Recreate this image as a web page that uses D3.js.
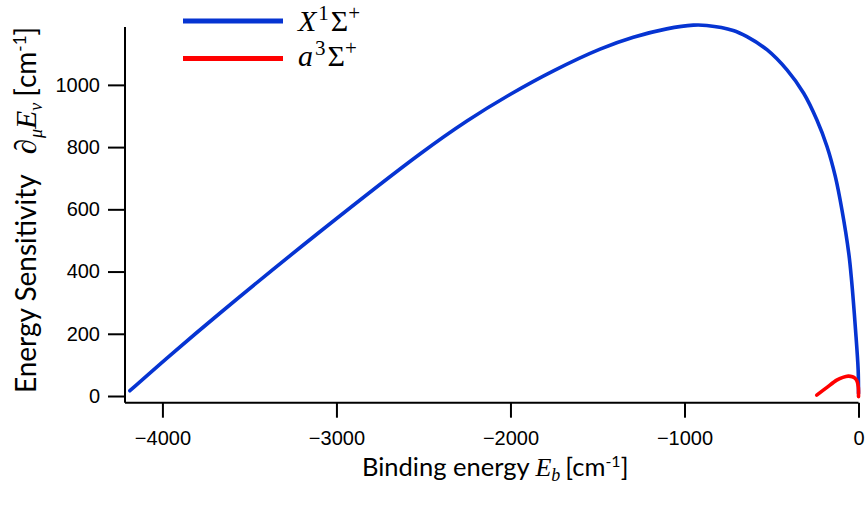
<!DOCTYPE html>
<html>
<head>
<meta charset="utf-8">
<script src="https://cdn.jsdelivr.net/npm/d3@7"></script>
<style>
  html, body { margin: 0; padding: 0; background: #fff; }
  svg { display: block; }
</style>
</head>
<body>
<svg id="chart" width="867" height="506"></svg>
<script>
// Binding energy E_b [cm^-1] and energy sensitivity [cm^-1] for the two molecular states
const singletEb   = [-4187, -3957, -3670, -3095, -2520, -2250, -2000, -1750, -1485, -1294, -1102, -949, -872, -720, -641, -526, -411, -315, -239, -181, -133, -95, -56, -40, -17, -2, 0];
const singletSens = [17, 130, 266, 528, 778, 884, 970, 1046, 1115, 1153, 1180, 1192, 1191, 1175, 1155, 1113, 1048, 973, 887, 802, 705, 598, 459, 373, 212, 84, 8];

const tripletEb   = [-240, -183, -125, -90, -59, -35, -20, -8, -1, 0];
const tripletSens = [3, 27, 51, 60, 64, 62, 57, 47, 28, -2];

const xTicks = [-4000, -3000, -2000, -1000, 0];
const yTicks = [0, 200, 400, 600, 800, 1000];

const seriesNames  = ["X", "a"];
const seriesColors = ["#0634d2", "#ff0000"];

const svg = d3.select("#chart");

const x = d3.scaleLinear().domain([-4215, 0]).range([125, 858.5]);
const y = d3.scaleLinear().domain([-21.5, 1186]).range([402.7, 27]);

const tickFont = "'Liberation Sans', Arial, sans-serif";
const titleFont = "Lato, 'Open Sans', sans-serif";
const mathFont = "'Liberation Serif', 'DejaVu Serif', serif";

// Axes
const xAxis = d3.axisBottom(x).tickValues(xTicks).tickSize(15).tickPadding(13)
  .tickFormat(d3.format("d"));
const yAxis = d3.axisLeft(y).tickValues(yTicks).tickSize(17).tickPadding(8)
  .tickFormat(d3.format("d"));

const gx = svg.append("g").attr("transform", `translate(0,${y.range()[0]})`).call(xAxis);
const gy = svg.append("g").attr("transform", `translate(${x.range()[0]},0)`).call(yAxis);

[gx, gy].forEach(g => {
  g.select(".domain").attr("stroke", "#000").attr("stroke-width", 2);
  g.selectAll(".tick line").attr("stroke", "#000").attr("stroke-width", 2);
  g.selectAll(".tick text")
    .attr("fill", "#000")
    .style("font-family", tickFont)
    .style("font-size", "20px");
});
// negative labels use a true minus sign
gx.selectAll(".tick text").text(d => d < 0 ? "\u2212" + Math.abs(d) : d);
gx.select(".domain").attr("d", `M${x.range()[0]},0H${x.range()[1]}`);
gy.select(".domain").attr("d", `M0,${y.range()[0]}V${y.range()[1]}`);

// Curves
const line = d3.line().x(d => x(d[0])).y(d => y(d[1])).curve(d3.curveCatmullRom.alpha(0.5));
const singlet = d3.zip(singletEb, singletSens);
const triplet = d3.zip(tripletEb, tripletSens);

svg.append("path").datum(singlet)
  .attr("d", line).attr("fill", "none")
  .attr("stroke", seriesColors[0]).attr("stroke-width", 3.6)
  .attr("stroke-linejoin", "round").attr("stroke-linecap", "round");

svg.append("path").datum(triplet)
  .attr("d", line).attr("fill", "none")
  .attr("stroke", seriesColors[1]).attr("stroke-width", 3.6)
  .attr("stroke-linejoin", "round").attr("stroke-linecap", "round");

// Legend
const legend = svg.append("g");
const legendRows = [
  { sym: seriesNames[0], sup: "1", color: seriesColors[0], ly: 21, ty: 31 },
  { sym: seriesNames[1], sup: "3", color: seriesColors[1], ly: 58.5, ty: 66 }
];
legendRows.forEach(r => {
  legend.append("line")
    .attr("x1", 183).attr("x2", 283).attr("y1", r.ly).attr("y2", r.ly)
    .attr("stroke", r.color).attr("stroke-width", 5);
  const t = legend.append("text")
    .attr("x", 298).attr("y", r.ty)
    .style("font-family", mathFont).style("font-size", "30px").attr("fill", "#000");
  t.append("tspan").style("font-style", "italic").text(r.sym);
  t.append("tspan").attr("dy", -11).style("font-size", "21px").attr("dx", 2).text(r.sup);
  t.append("tspan").attr("dy", 11).attr("dx", 2).text("\u03A3");
  t.append("tspan").attr("dy", -11).style("font-size", "21px").text("+");
});

// X axis title
const xt = svg.append("text")
  .attr("x", 362).attr("y", 476)
  .style("font-family", titleFont).style("font-size", "25.5px").attr("fill", "#000");
xt.append("tspan").text("Binding energy ");
xt.append("tspan").style("font-family", mathFont).style("font-style", "italic").style("font-size", "26px").text("E");
xt.append("tspan").attr("dy", 5).style("font-family", mathFont).style("font-style", "italic").style("font-size", "18px").text("b");
xt.append("tspan").attr("dy", -5).attr("dx", 5).text("[cm");
xt.append("tspan").attr("dy", -9).style("font-size", "16px").text("-1");
xt.append("tspan").attr("dy", 9).text("]");

// Y axis title
const yt = svg.append("text")
  .attr("transform", "translate(36,210) rotate(-90)")
  .attr("text-anchor", "middle")
  .style("font-family", titleFont).style("font-size", "28px").attr("fill", "#000");
yt.append("tspan").text("Energy Sensitivity");
yt.append("tspan").attr("dx", 20).style("font-family", mathFont).style("font-style", "italic").style("font-size", "31px").text("\u2202");
yt.append("tspan").attr("dy", 6).attr("dx", 1).style("font-family", mathFont).style("font-style", "italic").style("font-size", "18px").text("\u03BC");
yt.append("tspan").attr("dy", -6).style("font-family", mathFont).style("font-style", "italic").style("font-size", "30px").text("E");
yt.append("tspan").attr("dy", 6).style("font-family", mathFont).style("font-style", "italic").style("font-size", "18px").text("\u03BD");
yt.append("tspan").attr("dy", -6).attr("dx", 6).text("[cm");
yt.append("tspan").attr("dy", -10).style("font-size", "17px").text("-1");
yt.append("tspan").attr("dy", 10).text("]");
</script>
</body>
</html>
